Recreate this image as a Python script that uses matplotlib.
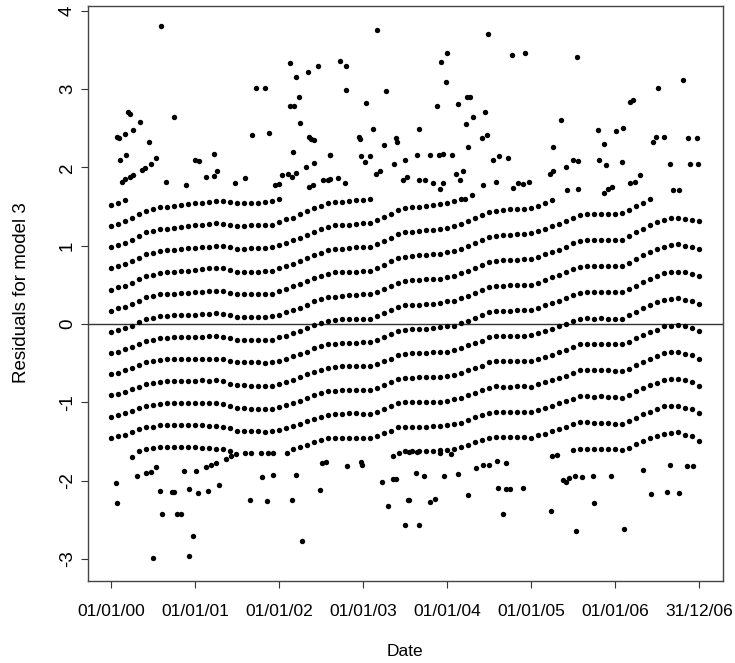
import numpy as np
import pandas as pd
import matplotlib
matplotlib.use("Agg")
import matplotlib.pyplot as plt
import matplotlib.dates as mdates

plt.rcParams["font.family"] = ["Liberation Sans", "DejaVu Sans"]
plt.rcParams["axes.unicode_minus"] = False

# Residual levels read in each monthly column (one row per month, Jan 2000 .. Dec 2006)
resid_2000 = [
    [-1.45, -1.18, -0.91, -0.64, -0.37, -0.10, 0.17, 0.44, 0.71, 0.98, 1.25, 1.52],
    [-1.43, -1.16, -0.89, -0.62, -0.35, -0.07, 0.20, 0.47, 0.74, 1.01, 1.28, 1.55],
    [-1.41, -1.14, -0.87, -0.59, -0.32, -0.05, 0.22, 0.49, 0.77, 1.04, 1.31, 1.58],
    [-1.38, -1.11, -0.83, -0.56, -0.29, -0.02, 0.26, 0.53, 0.80, 1.08, 1.35],
    [-1.62, -1.34, -1.07, -0.80, -0.52, -0.25, 0.03, 0.30, 0.58, 0.85, 1.12, 1.40],
    [-1.59, -1.32, -1.04, -0.77, -0.49, -0.21, 0.06, 0.34, 0.62, 0.89, 1.17, 1.44],
    [-1.58, -1.31, -1.03, -0.75, -0.47, -0.20, 0.08, 0.36, 0.63, 0.91, 1.19, 1.47],
    [-1.57, -1.29, -1.02, -0.74, -0.46, -0.18, 0.10, 0.38, 0.65, 0.93, 1.21, 1.49],
    [-1.57, -1.29, -1.01, -0.73, -0.45, -0.18, 0.10, 0.38, 0.66, 0.94, 1.22, 1.50],
    [-1.57, -1.29, -1.01, -0.73, -0.45, -0.17, 0.11, 0.39, 0.67, 0.95, 1.23, 1.51],
    [-1.57, -1.29, -1.01, -0.73, -0.45, -0.17, 0.11, 0.40, 0.68, 0.96, 1.24, 1.52],
    [-1.57, -1.29, -1.01, -0.73, -0.45, -0.16, 0.12, 0.40, 0.68, 0.97, 1.25, 1.53],
]
resid_2001 = [
    [-1.57, -1.29, -1.01, -0.73, -0.44, -0.16, 0.12, 0.41, 0.69, 0.97, 1.26, 1.54],
    [-1.58, -1.29, -1.01, -0.72, -0.44, -0.16, 0.13, 0.41, 0.70, 0.98, 1.26, 1.55],
    [-1.58, -1.30, -1.01, -0.73, -0.44, -0.15, 0.13, 0.42, 0.71, 0.99, 1.28, 1.56],
    [-1.59, -1.30, -1.01, -0.72, -0.44, -0.15, 0.14, 0.42, 0.71, 1.00, 1.29, 1.57],
    [-1.60, -1.31, -1.02, -0.73, -0.44, -0.16, 0.13, 0.42, 0.71, 1.00, 1.28, 1.57],
    [-1.62, -1.33, -1.05, -0.76, -0.47, -0.18, 0.11, 0.40, 0.69, 0.98, 1.27, 1.56],
    [-1.36, -1.07, -0.78, -0.49, -0.20, 0.09, 0.38, 0.67, 0.96, 1.25, 1.54],
    [-1.37, -1.07, -0.78, -0.49, -0.20, 0.09, 0.38, 0.67, 0.96, 1.25, 1.55],
    [-1.37, -1.08, -0.79, -0.49, -0.20, 0.09, 0.38, 0.67, 0.97, 1.26, 1.55],
    [-1.37, -1.08, -0.79, -0.49, -0.20, 0.09, 0.38, 0.67, 0.97, 1.26, 1.55],
    [-1.38, -1.08, -0.79, -0.50, -0.20, 0.09, 0.38, 0.68, 0.97, 1.26, 1.56],
    [-1.37, -1.08, -0.79, -0.49, -0.20, 0.10, 0.39, 0.68, 0.98, 1.27, 1.57],
]
resid_2002 = [
    [-1.35, -1.06, -0.76, -0.47, -0.17, 0.12, 0.42, 0.71, 1.01, 1.30, 1.60],
    [-1.33, -1.03, -0.74, -0.44, -0.15, 0.15, 0.45, 0.74, 1.04, 1.34],
    [-1.60, -1.30, -1.01, -0.71, -0.41, -0.12, 0.18, 0.48, 0.77, 1.07, 1.36],
    [-1.57, -1.28, -0.98, -0.68, -0.38, -0.09, 0.21, 0.51, 0.80, 1.10, 1.40],
    [-1.54, -1.24, -0.94, -0.64, -0.35, -0.05, 0.25, 0.55, 0.85, 1.14, 1.44],
    [-1.51, -1.21, -0.91, -0.61, -0.31, -0.01, 0.29, 0.59, 0.88, 1.18, 1.48],
    [-1.48, -1.18, -0.88, -0.58, -0.28, 0.02, 0.32, 0.61, 0.91, 1.21, 1.51],
    [-1.46, -1.16, -0.86, -0.56, -0.26, 0.04, 0.34, 0.64, 0.94, 1.24, 1.54],
    [-1.45, -1.15, -0.85, -0.55, -0.25, 0.05, 0.35, 0.66, 0.96, 1.26, 1.56],
    [-1.45, -1.15, -0.84, -0.54, -0.24, 0.06, 0.36, 0.66, 0.96, 1.26, 1.56],
    [-1.45, -1.14, -0.84, -0.54, -0.24, 0.06, 0.37, 0.67, 0.97, 1.27, 1.57],
    [-1.45, -1.14, -0.84, -0.54, -0.24, 0.07, 0.37, 0.67, 0.98, 1.28, 1.58],
]
resid_2003 = [
    [-1.45, -1.15, -0.84, -0.54, -0.23, 0.07, 0.38, 0.68, 0.98, 1.29, 1.59],
    [-1.45, -1.15, -0.84, -0.54, -0.23, 0.07, 0.38, 0.68, 0.99, 1.29, 1.60],
    [-1.43, -1.12, -0.81, -0.51, -0.20, 0.10, 0.41, 0.72, 1.02, 1.33],
    [-1.39, -1.09, -0.78, -0.47, -0.16, 0.14, 0.45, 0.76, 1.06, 1.37],
    [-1.36, -1.05, -0.74, -0.44, -0.13, 0.18, 0.49, 0.80, 1.10, 1.41],
    [-1.32, -1.01, -0.70, -0.40, -0.09, 0.22, 0.53, 0.84, 1.15, 1.46],
    [-1.62, -1.31, -1.00, -0.69, -0.38, -0.07, 0.24, 0.55, 0.86, 1.17, 1.48],
    [-1.62, -1.31, -1.00, -0.69, -0.37, -0.06, 0.25, 0.56, 0.87, 1.18, 1.49],
    [-1.62, -1.31, -1.00, -0.68, -0.37, -0.06, 0.25, 0.56, 0.88, 1.19, 1.50],
    [-1.62, -1.31, -1.00, -0.68, -0.37, -0.06, 0.26, 0.57, 0.88, 1.20, 1.51],
    [-1.62, -1.30, -0.99, -0.68, -0.36, -0.05, 0.26, 0.58, 0.89, 1.20, 1.52],
    [-1.61, -1.30, -0.99, -0.67, -0.36, -0.04, 0.27, 0.58, 0.90, 1.21, 1.53],
]
resid_2004 = [
    [-1.61, -1.29, -0.98, -0.66, -0.35, -0.03, 0.29, 0.60, 0.92, 1.23, 1.55],
    [-1.60, -1.28, -0.96, -0.65, -0.33, -0.02, 0.30, 0.62, 0.93, 1.25, 1.57],
    [-1.57, -1.26, -0.94, -0.62, -0.30, 0.01, 0.33, 0.65, 0.96, 1.28, 1.60],
    [-1.55, -1.23, -0.91, -0.59, -0.27, 0.04, 0.36, 0.68, 1.00, 1.32],
    [-1.51, -1.19, -0.88, -0.56, -0.24, 0.08, 0.40, 0.72, 1.03, 1.35],
    [-1.48, -1.16, -0.84, -0.53, -0.21, 0.11, 0.43, 0.75, 1.07, 1.39],
    [-1.45, -1.13, -0.81, -0.49, -0.17, 0.15, 0.47, 0.79, 1.11, 1.43],
    [-1.44, -1.12, -0.79, -0.47, -0.15, 0.17, 0.49, 0.81, 1.13, 1.45],
    [-1.44, -1.12, -0.80, -0.47, -0.15, 0.17, 0.49, 0.82, 1.14, 1.46],
    [-1.44, -1.12, -0.80, -0.47, -0.15, 0.17, 0.50, 0.82, 1.14, 1.47],
    [-1.44, -1.12, -0.79, -0.47, -0.15, 0.18, 0.50, 0.82, 1.15, 1.47],
    [-1.44, -1.12, -0.79, -0.47, -0.15, 0.18, 0.50, 0.83, 1.15, 1.47],
]
resid_2005 = [
    [-1.45, -1.12, -0.80, -0.47, -0.14, 0.18, 0.50, 0.83, 1.16, 1.48],
    [-1.42, -1.10, -0.77, -0.44, -0.12, 0.21, 0.53, 0.86, 1.19, 1.51],
    [-1.40, -1.07, -0.74, -0.42, -0.09, 0.24, 0.56, 0.89, 1.22, 1.55],
    [-1.37, -1.04, -0.71, -0.39, -0.06, 0.27, 0.60, 0.92, 1.25, 1.58],
    [-1.34, -1.01, -0.69, -0.36, -0.03, 0.30, 0.63, 0.95, 1.28],
    [-1.31, -0.98, -0.66, -0.33, 0.00, 0.33, 0.66, 0.99, 1.32],
    [-1.61, -1.28, -0.95, -0.62, -0.29, 0.04, 0.37, 0.70, 1.03, 1.36],
    [-1.59, -1.25, -0.92, -0.59, -0.26, 0.07, 0.40, 0.73, 1.06, 1.39],
    [-1.59, -1.25, -0.92, -0.59, -0.26, 0.08, 0.41, 0.74, 1.07, 1.40],
    [-1.59, -1.26, -0.93, -0.59, -0.26, 0.07, 0.41, 0.74, 1.07, 1.41],
    [-1.59, -1.26, -0.92, -0.59, -0.26, 0.08, 0.41, 0.74, 1.08, 1.41],
    [-1.60, -1.26, -0.93, -0.59, -0.26, 0.07, 0.41, 0.74, 1.08, 1.41],
]
resid_2006 = [
    [-1.60, -1.27, -0.93, -0.60, -0.26, 0.07, 0.41, 0.74, 1.08, 1.41],
    [-1.61, -1.27, -0.94, -0.60, -0.26, 0.07, 0.41, 0.74, 1.08, 1.42],
    [-1.58, -1.24, -0.90, -0.57, -0.23, 0.11, 0.45, 0.78, 1.12, 1.46],
    [-1.53, -1.20, -0.86, -0.52, -0.18, 0.16, 0.49, 0.83, 1.17, 1.51],
    [-1.49, -1.15, -0.81, -0.48, -0.14, 0.20, 0.54, 0.88, 1.21, 1.55],
    [-1.45, -1.12, -0.78, -0.44, -0.10, 0.24, 0.58, 0.92, 1.26, 1.60],
    [-1.43, -1.09, -0.75, -0.41, -0.07, 0.28, 0.62, 0.96, 1.30],
    [-1.40, -1.05, -0.71, -0.37, -0.03, 0.31, 0.65, 0.99, 1.33],
    [-1.39, -1.05, -0.70, -0.36, -0.02, 0.32, 0.67, 1.01, 1.35],
    [-1.38, -1.04, -0.70, -0.36, -0.01, 0.33, 0.67, 1.02, 1.36],
    [-1.41, -1.07, -0.72, -0.38, -0.03, 0.31, 0.66, 1.00, 1.34],
    [-1.43, -1.09, -0.74, -0.40, -0.05, 0.29, 0.64, 0.98, 1.33],
    [-1.49, -1.14, -0.79, -0.44, -0.09, 0.26, 0.61, 0.96, 1.31],
]

# Sparse points in the tails (years since 01/01/00, residual)
upper_year = [0.60, 2.13, 2.20, 2.34, 2.46, 2.24, 2.13, 2.18, 2.25, 1.73, 1.83, 1.68, 1.88,
              0.75, 0.20, 0.22, 0.07, 0.09, 0.17, 0.26, 0.34, 0.45, 0.11, 0.18, 0.54, 0.47,
              0.40, 0.37, 0.13, 0.17, 0.22, 0.26, 0.66, 0.89, 1.00, 1.05, 1.13, 1.23, 1.26,
              1.22, 1.47, 1.60, 1.95, 2.00, 2.04, 2.10, 2.15, 2.20, 2.16, 2.32, 2.42, 2.35,
              2.38, 2.42, 2.36, 2.40, 2.58, 2.60, 3.16, 4.48, 2.72, 2.79, 2.79, 3.03, 3.27,
              3.93, 4.00, 3.98, 3.88, 4.13, 4.23, 4.27, 4.31, 4.22, 4.45, 4.41, 4.47, 4.25,
              4.77, 4.93, 5.35, 5.26, 5.41, 3.12, 2.95, 2.96, 3.25, 3.39, 3.40, 3.66, 2.61,
              2.97, 3.02, 3.08, 3.15, 3.20, 3.37, 3.50, 3.64, 3.80, 3.90, 3.95, 4.06, 4.54,
              4.62, 4.72, 4.58, 4.78, 4.84, 4.90, 4.97, 5.22, 5.26, 5.42, 2.52, 2.60, 2.70,
              2.78, 3.47, 3.52, 3.67, 3.74, 3.83, 3.92, 3.95, 4.10, 4.15, 4.19, 5.54, 6.17,
              6.21, 6.51, 6.81, 5.80, 5.87, 6.01, 6.09, 6.45, 6.49, 6.58, 6.87, 6.97, 5.50,
              5.56, 5.81, 5.89, 6.08, 6.65, 6.89, 6.98, 5.56, 5.87, 5.91, 5.96, 6.17, 6.23,
              6.29, 6.69, 6.76, 4.43, 4.21, 4.30]
upper_resid = [3.80, 3.33, 3.16, 3.22, 3.29, 2.90, 2.78, 2.78, 2.57, 3.02, 3.02, 2.41, 2.44,
               2.64, 2.71, 2.68, 2.39, 2.38, 2.43, 2.48, 2.58, 2.32, 2.09, 2.16, 2.12, 2.05,
               1.99, 1.97, 1.82, 1.85, 1.88, 1.90, 1.81, 1.78, 2.09, 2.08, 1.88, 1.89, 1.95,
               2.17, 1.80, 1.87, 1.78, 1.79, 1.90, 1.92, 1.88, 1.93, 2.20, 2.01, 2.06, 2.39,
               2.36, 2.35, 1.75, 1.78, 1.84, 2.16, 3.75, 3.71, 3.36, 3.30, 2.99, 2.82, 2.98,
               3.34, 3.46, 3.09, 2.78, 2.81, 2.90, 2.90, 2.64, 2.55, 2.71, 2.37, 2.41, 2.26,
               3.43, 3.46, 2.61, 2.26, 2.01, 2.49, 2.39, 2.36, 2.29, 2.37, 2.32, 2.49, 2.16,
               2.15, 2.07, 2.15, 1.92, 1.96, 2.05, 2.10, 2.16, 2.16, 2.16, 2.17, 2.16, 2.10,
               2.15, 2.12, 1.82, 1.74, 1.80, 1.79, 1.82, 1.92, 1.95, 1.71, 1.84, 1.85, 1.86,
               1.80, 1.84, 1.88, 1.84, 1.84, 1.80, 1.72, 1.80, 1.92, 1.84, 1.95, 3.41, 2.84,
               2.86, 3.02, 3.12, 2.48, 2.30, 2.46, 2.50, 2.32, 2.39, 2.39, 2.37, 2.37, 2.09,
               2.08, 2.09, 2.03, 2.07, 2.04, 2.05, 2.05, 1.72, 1.68, 1.72, 1.75, 1.80, 1.82,
               1.90, 1.71, 1.71, 1.78, 1.60, 1.65]
lower_year = [0.06, 0.07, 0.25, 0.31, 0.42, 0.48, 0.54, 0.58, 0.72, 0.75, 0.61, 0.79, 0.83,
              0.50, 0.93, 0.97, 0.87, 1.01, 0.93, 1.03, 1.15, 1.13, 1.19, 1.25, 1.29, 1.37,
              1.43, 1.49, 1.60, 1.66, 1.78, 1.87, 1.93, 2.09, 1.65, 1.80, 1.93, 1.85, 2.15,
              2.20, 2.27, 2.49, 2.51, 2.56, 2.81, 2.97, 2.99, 3.23, 3.36, 3.39, 3.30, 3.50,
              3.67, 3.53, 3.55, 3.80, 3.85, 3.63, 3.72, 3.96, 4.13, 4.25, 3.35, 3.43, 3.55,
              3.64, 3.92, 4.05, 4.34, 4.43, 4.50, 4.59, 4.70, 4.60, 4.70, 4.75, 4.90, 4.66,
              5.23, 5.25, 5.31, 5.38, 5.41, 5.45, 5.52, 5.60, 5.73, 5.95, 5.75, 5.53, 6.10,
              6.33, 6.43, 6.62, 6.76, 6.65, 6.85, 6.93]
lower_resid = [-2.03, -2.28, -1.70, -1.94, -1.90, -1.89, -1.83, -2.13, -2.14, -2.14, -2.42,
               -2.43, -2.43, -2.99, -2.96, -2.70, -1.87, -1.87, -2.11, -2.16, -2.13, -1.82,
               -1.80, -1.77, -2.06, -1.72, -1.68, -1.66, -1.65, -1.65, -1.64, -1.64, -1.64,
               -1.64, -2.24, -1.95, -1.93, -2.26, -2.24, -1.93, -2.77, -2.12, -1.77, -1.76,
               -1.81, -1.76, -1.80, -2.01, -1.98, -1.98, -2.32, -2.56, -2.56, -2.25, -2.25,
               -2.27, -2.23, -1.90, -1.94, -1.94, -1.92, -2.18, -1.69, -1.65, -1.63, -1.63,
               -1.64, -1.66, -1.84, -1.80, -1.80, -1.75, -1.77, -2.09, -2.10, -2.10, -2.09,
               -2.42, -2.38, -1.69, -1.67, -1.99, -2.01, -1.96, -1.94, -1.95, -1.94, -1.94,
               -2.28, -2.64, -2.61, -1.86, -2.17, -2.15, -2.16, -1.80, -1.81, -1.81]

tick_dates = ["2000-01-01", "2001-01-01", "2002-01-01", "2003-01-01",
              "2004-01-01", "2005-01-01", "2006-01-01", "2006-12-31"]
tick_labels = ["01/01/00", "01/01/01", "01/01/02", "01/01/03",
               "01/01/04", "01/01/05", "01/01/06", "31/12/06"]
y_ticks = [-3, -2, -1, 0, 1, 2, 3, 4]

start = pd.Timestamp("2000-01-01")
end = pd.Timestamp("2006-12-31")
rows = resid_2000 + resid_2001 + resid_2002 + resid_2003 + resid_2004 + resid_2005 + resid_2006
row_dates = pd.date_range(start, end, periods=len(rows))

xs, ys = [], []
for d, vals in zip(row_dates, rows):
    for v in vals:
        xs.append(mdates.date2num(d))
        ys.append(v)
for yr, v in zip(upper_year + lower_year, upper_resid + lower_resid):
    xs.append(mdates.date2num(start + pd.Timedelta(days=yr * 365.25)))
    ys.append(v)

fig = plt.figure(figsize=(7.35, 6.63), dpi=100)
ax = fig.add_axes([87.5 / 735, 1 - 581 / 663, (722.7 - 87.5) / 735, (581 - 5.7) / 663])
ax.scatter(xs, ys, s=15, c="black", marker="o", linewidths=0, zorder=3)
ax.axhline(0, color="#333333", lw=1.0, zorder=2)

x0 = mdates.date2num(start)
x1 = mdates.date2num(end)
padx = 0.04 * (x1 - x0)
ax.set_xlim(x0 - padx, x1 + padx)
ax.set_ylim(-3.28, 4.065)

ax.set_xticks([mdates.date2num(pd.Timestamp(d)) for d in tick_dates])
ax.set_xticklabels(tick_labels, fontsize=12.5)
ax.set_yticks(y_ticks)
ax.set_yticklabels([str(t) for t in y_ticks], fontsize=13.5, rotation=90, va="center")

ax.tick_params(axis="x", direction="out", length=5.2, width=0.8, color="#333333", pad=11)
ax.tick_params(axis="y", direction="out", length=5.2, width=0.8, color="#333333", pad=3)
for sp in ax.spines.values():
    sp.set_color("#444444")
    sp.set_linewidth(1.0)

fig.text(405 / 735, 1 - 652 / 663, "Date", ha="center", va="center", fontsize=12.5)
fig.text(22 / 735, 1 - 293 / 663, "Residuals for model 3", ha="center", va="center",
         rotation=90, fontsize=13.5)

fig.savefig("out.png", dpi=100)
